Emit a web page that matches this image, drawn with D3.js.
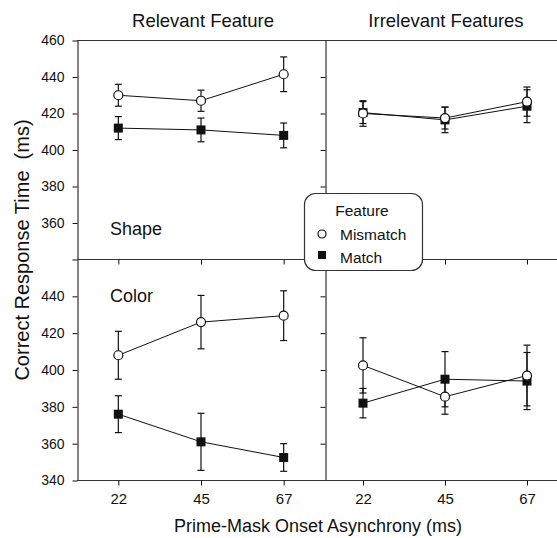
<!DOCTYPE html>
<html>
<head>
<meta charset="utf-8">
<script src="https://cdn.jsdelivr.net/npm/d3@7"></script>
<style>
  body { margin: 0; background: #fff; }
  svg { display: block; font-family: Arial, "Liberation Sans", sans-serif; }
</style>
</head>
<body>
<svg id="chart" width="557" height="538"></svg>
<script>
// prime-mask onset asynchrony (ms)
const soa = ['22', '45', '67'];
const yTicks = [340, 360, 380, 400, 420, 440, 460];

// Relevant feature, Shape row
const shapeRelMismatch = [430, 427, 441.5];
const shapeRelMismatchErr = [6, 5.8, 9.5];
const shapeRelMatch = [412, 411, 408];
const shapeRelMatchErr = [6.3, 6.5, 6.8];

// Irrelevant features, Shape row
const shapeIrrMismatch = [420, 417.5, 426.5];
const shapeIrrMismatchErr = [7, 6, 8];
const shapeIrrMatch = [420.5, 416.5, 424];
const shapeIrrMatchErr = [6, 7, 9];

// Relevant feature, Color row
const colorRelMismatch = [408, 426, 429.5];
const colorRelMismatchErr = [13, 14.5, 13.5];
const colorRelMatch = [376, 361, 352.5];
const colorRelMatchErr = [10, 15.5, 7.5];

// Irrelevant features, Color row
const colorIrrMismatch = [402.5, 385.5, 397];
const colorIrrMismatchErr = [15, 9.5, 16.5];
const colorIrrMatch = [382, 395, 394];
const colorIrrMatchErr = [8, 15, 15.5];

const svg = d3.select('#chart');
const ink = '#111';

const leftX = d3.scalePoint().domain(soa).range([77, 325]).padding(0.5);
const rightX = d3.scalePoint().domain(soa).range([322, 568]).padding(0.5);
const topY = d3.scaleLinear().domain([340, 460]).range([259.5, 40.5]);
const botY = d3.scaleLinear().domain([340, 460]).range([480.5, 259.5]);

const panels = [
  {x: leftX, y: topY, series: [
    {v: shapeRelMatch, e: shapeRelMatchErr, m: 'square'},
    {v: shapeRelMismatch, e: shapeRelMismatchErr, m: 'circle'}]},
  {x: rightX, y: topY, series: [
    {v: shapeIrrMatch, e: shapeIrrMatchErr, m: 'square'},
    {v: shapeIrrMismatch, e: shapeIrrMismatchErr, m: 'circle'}]},
  {x: leftX, y: botY, series: [
    {v: colorRelMatch, e: colorRelMatchErr, m: 'square'},
    {v: colorRelMismatch, e: colorRelMismatchErr, m: 'circle'}]},
  {x: rightX, y: botY, series: [
    {v: colorIrrMatch, e: colorIrrMatchErr, m: 'square'},
    {v: colorIrrMismatch, e: colorIrrMismatchErr, m: 'circle'}]}
];

// frame lines
const frame = svg.append('g').attr('stroke', '#333').attr('stroke-width', 1.2);
frame.append('line').attr('x1', 77).attr('x2', 557).attr('y1', 40.5).attr('y2', 40.5);
frame.append('line').attr('x1', 77).attr('x2', 557).attr('y1', 259.5).attr('y2', 259.5);

// y axes
function yAxis(scale, x, labels, vals) {
  const g = svg.append('g').attr('transform', `translate(${x},0)`)
    .call(d3.axisLeft(scale).tickValues(vals).tickSize(5).tickSizeOuter(0)
      .tickFormat(d => labels.includes(d) ? d : ''));
  g.select('.domain').attr('stroke', '#333').attr('stroke-width', 1.2);
  g.selectAll('.tick line').attr('stroke', ink);
  g.selectAll('.tick text').attr('font-size', 14).attr('fill', ink)
    .attr('font-family', 'Arial, "Liberation Sans", sans-serif').attr('x', -13);
}
yAxis(topY, 77.5, [360, 380, 400, 420, 440, 460], yTicks);
yAxis(botY, 77.5, [340, 360, 380, 400, 420, 440], yTicks.slice(0, 6));
yAxis(topY, 325.5, [], yTicks.slice(1, 6));
yAxis(botY, 325.5, [], yTicks.slice(1, 6));

// x axes
function xAxis(scale, y, showLabels, r) {
  const g = svg.append('g').attr('transform', `translate(0,${y})`)
    .call(d3.axisBottom(scale).tickSize(5).tickSizeOuter(0)
      .tickFormat(d => showLabels ? d : ''));
  g.select('.domain').attr('d', `M${r[0]},0H${r[1]}`).attr('stroke', '#333').attr('stroke-width', 1.2);
  g.selectAll('.tick line').attr('stroke', ink);
  g.selectAll('.tick text').attr('font-size', 15).attr('fill', ink)
    .attr('font-family', 'Arial, "Liberation Sans", sans-serif').attr('y', 13);
}
xAxis(leftX, 259.5, false, [77, 325]);
xAxis(rightX, 259.5, false, [325, 557]);
xAxis(leftX, 480.5, true, [77, 325]);
xAxis(rightX, 480.5, true, [325, 557]);

// data
panels.forEach(p => {
  const g = svg.append('g');
  p.series.forEach(s => {
    const pts = soa.map((d, i) => ({x: p.x(d), y: p.y(s.v[i]), lo: p.y(s.v[i] - s.e[i]), hi: p.y(s.v[i] + s.e[i])}));
    const eb = g.append('g').attr('stroke', ink).attr('stroke-width', 1.2);
    pts.forEach(q => {
      eb.append('line').attr('x1', q.x).attr('x2', q.x).attr('y1', q.lo).attr('y2', q.hi);
      eb.append('line').attr('x1', q.x - 3.5).attr('x2', q.x + 3.5).attr('y1', q.lo).attr('y2', q.lo);
      eb.append('line').attr('x1', q.x - 3.5).attr('x2', q.x + 3.5).attr('y1', q.hi).attr('y2', q.hi);
    });
    g.append('path').datum(pts)
      .attr('d', d3.line().x(q => q.x).y(q => q.y))
      .attr('fill', 'none').attr('stroke', ink).attr('stroke-width', 1);
    if (s.m === 'circle') {
      g.selectAll(null).data(pts).join('circle')
        .attr('cx', q => q.x).attr('cy', q => q.y).attr('r', 4.5)
        .attr('fill', '#fff').attr('stroke', ink).attr('stroke-width', 1.2);
    } else {
      g.selectAll(null).data(pts).join('rect')
        .attr('x', q => q.x - 4.5).attr('y', q => q.y - 4.5)
        .attr('width', 9).attr('height', 9).attr('fill', ink);
    }
  });
});

// titles
const txt = (parent, x, y, s, size, anchor) => parent.append('text')
  .attr('x', x).attr('y', y).attr('font-size', size).attr('fill', ink)
  .attr('text-anchor', anchor || 'middle').text(s);
txt(svg, 203, 27, 'Relevant Feature', 18.5);
txt(svg, 446, 27, 'Irrelevant Features', 18.5);
txt(svg, 110, 235, 'Shape', 18);
txt(svg, 110, 302, 'Color', 18);
svg.selectAll('text').filter(function() { return /Shape|Color/.test(this.textContent); })
  .attr('text-anchor', 'start');
txt(svg, 318, 532, 'Prime-Mask Onset Asynchrony (ms)', 18);
svg.append('text').attr('transform', 'translate(29,250) rotate(-90)')
  .attr('font-size', 20).attr('fill', ink).attr('text-anchor', 'middle')
  .attr('xml:space', 'preserve').text('Correct Response Time  (ms)');

// legend
const lg = svg.append('g');
lg.append('rect').attr('x', 304.5).attr('y', 193.5).attr('width', 118).attr('height', 77)
  .attr('rx', 11).attr('fill', '#fff').attr('stroke', '#333').attr('stroke-width', 1.2);
txt(lg, 362, 216, 'Feature', 15.5);
txt(lg, 340, 240, 'Mismatch', 15.5, 'start');
txt(lg, 340, 263, 'Match', 15.5, 'start');
lg.append('circle').attr('cx', 322).attr('cy', 234).attr('r', 4)
  .attr('fill', '#fff').attr('stroke', ink).attr('stroke-width', 1.2);
lg.append('rect').attr('x', 318).attr('y', 251).attr('width', 8).attr('height', 8).attr('fill', ink);
</script>
</body>
</html>
